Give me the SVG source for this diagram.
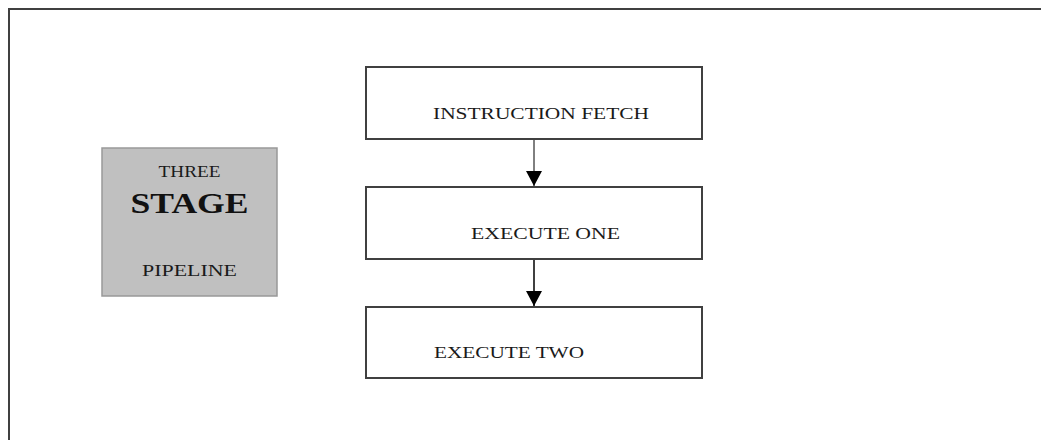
<svg xmlns="http://www.w3.org/2000/svg" width="1041" height="440" viewBox="0 0 1041 440">
  <style>
    .frame { fill: #ffffff; stroke: #404040; stroke-width: 2; }
    .stage { fill: #ffffff; stroke: #404040; stroke-width: 2; }
    .title { fill: #c0c0c0; stroke: #999999; stroke-width: 1.5; }
    .lbl { font-family: "Liberation Serif", "Times New Roman", serif; font-size: 17px; fill: #1a1a1a; }
    .big { font-family: "Liberation Serif", "Times New Roman", serif; font-size: 30px; font-weight: bold; fill: #111111; }
    .link { stroke: #000000; fill: none; }
  </style>
  <defs>
    <marker id="arrow" markerUnits="userSpaceOnUse" markerWidth="16" markerHeight="16" refX="15" refY="8" orient="auto">
      <path d="M0,0 L15,8 L0,16 Z" fill="#000000"/>
    </marker>
  </defs>

  <rect width="1041" height="440" fill="#ffffff"/>
  <!-- outer frame, open to the right and bottom edges -->
  <rect class="frame" x="9" y="9" width="1045" height="445"/>

  <g id="title-block">
    <rect class="title" x="102" y="148" width="175" height="148"/>
    <text class="lbl" x="189.5" y="177" text-anchor="middle" textLength="62" lengthAdjust="spacingAndGlyphs">THREE</text>
    <text class="big" x="189.5" y="213" text-anchor="middle" textLength="118" lengthAdjust="spacingAndGlyphs">STAGE</text>
    <text class="lbl" x="189.5" y="276" text-anchor="middle" textLength="95" lengthAdjust="spacingAndGlyphs">PIPELINE</text>
  </g>

  <g id="instruction-fetch">
    <rect class="stage" x="366" y="67" width="336" height="72"/>
    <text class="lbl" x="433" y="119" textLength="216" lengthAdjust="spacingAndGlyphs">INSTRUCTION FETCH</text>
  </g>

  <g id="execute-one">
    <rect class="stage" x="366" y="187" width="336" height="72"/>
    <text class="lbl" x="471" y="239" textLength="149" lengthAdjust="spacingAndGlyphs">EXECUTE ONE</text>
  </g>

  <g id="execute-two">
    <rect class="stage" x="366" y="307" width="336" height="71"/>
    <text class="lbl" x="434" y="358" textLength="150" lengthAdjust="spacingAndGlyphs">EXECUTE TWO</text>
  </g>

  <g id="connectors">
    <line class="link" x1="534" y1="140" x2="534" y2="186" stroke-width="1" marker-end="url(#arrow)"/>
    <line class="link" x1="534" y1="260" x2="534" y2="306" stroke-width="1.5" marker-end="url(#arrow)"/>
  </g>
</svg>
